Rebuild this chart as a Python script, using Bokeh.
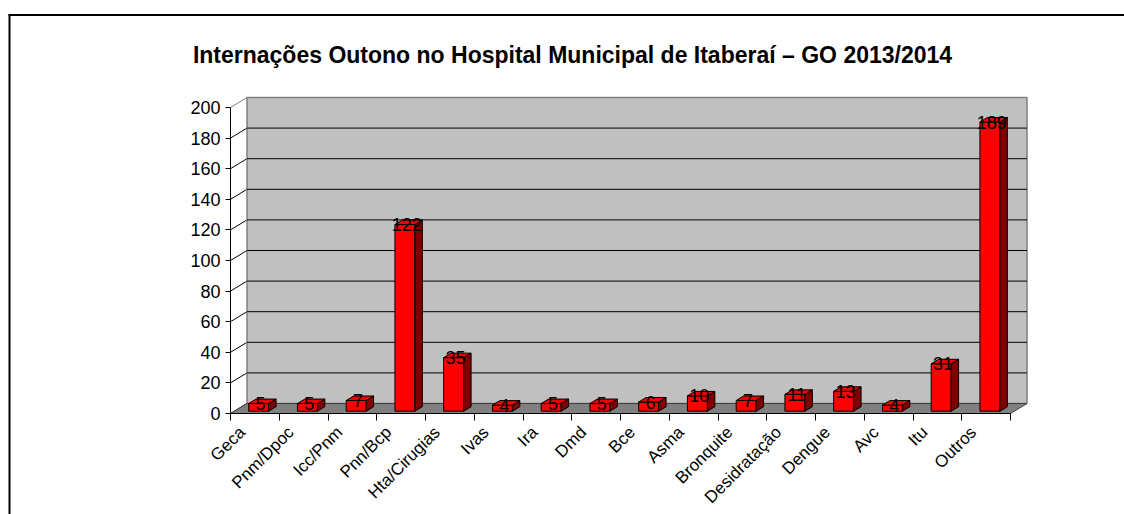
import math
from bokeh.plotting import figure
from bokeh.models import Range1d, LinearAxis, FixedTicker
from bokeh.embed import file_html
from bokeh.resources import INLINE
from bokeh.core.properties import value

# ---------------- data ----------------
categories = ["Geca", "Pnm/Dpoc", "Icc/Pnm", "Pnn/Bcp", "Hta/Cirugias", "Ivas", "Ira",
              "Dmd", "Bce", "Asma", "Bronquite", "Desidratação", "Dengue", "Avc", "Itu", "Outros"]
values = [5, 5, 7, 122, 35, 4, 5, 5, 6, 10, 7, 11, 13, 4, 31, 189]
y_ticks = [0, 20, 40, 60, 80, 100, 120, 140, 160, 180, 200]
title_text = "Internações Outono no Hospital Municipal de Itaberaí – GO 2013/2014"

# ---------------- layout (canvas pixels) ----------------
W, H = 1124, 514
FRONT_LEFT = 230      # canvas x of front-left corner (value axis)
FRONT_RIGHT = 1010    # canvas x of front-right corner
FLOOR = 413           # canvas y of value 0 on the front plane
TOP = 107             # canvas y of value 200 on the front plane
n = len(categories)
ymax = y_ticks[-1]
sx = (FRONT_RIGHT - FRONT_LEFT) / n
sy = (FLOOR - TOP) / ymax

def cx(px):  # canvas x -> data x
    return (px - FRONT_LEFT) / sx

def cy(py):  # canvas y -> data y
    return (FLOOR - py) / sy

DX = 16.5 / sx        # depth offset (data units)
DY = 10.0 / sy
F = 0.23              # front depth fraction of bars
B = 0.45              # bar depth fraction
BW = 0.41             # bar width (category units)
LABEL_SHIFT = 0.26    # category labels sit left of the category centre

FONT = "Liberation Sans"

p = figure(width=W, height=H, output_backend="svg", toolbar_location=None,
           x_axis_type=None, y_axis_type=None,
           x_range=Range1d(cx(0), cx(W)), y_range=Range1d(cy(H), cy(0)),
           min_border=0, min_border_left=0, min_border_right=0,
           min_border_top=0, min_border_bottom=0)
p.outline_line_color = None
p.outline_line_alpha = 0
p.xgrid.visible = False
p.ygrid.visible = False
p.background_fill_color = "white"
p.border_fill_color = "white"

# left side wall grid (diagonals)
p.segment(x0=[0] * len(y_ticks), y0=y_ticks,
          x1=[DX] * len(y_ticks), y1=[t + DY for t in y_ticks],
          line_color=["black"] * (len(y_ticks) - 1) + ["#808080"], line_width=1)

# back wall
p.quad(left=[DX], right=[n + DX], bottom=[DY], top=[ymax + DY],
       fill_color="#C0C0C0", line_color="#808080", line_width=1.5)
inner = y_ticks[1:-1]
p.segment(x0=[DX] * len(inner), y0=[t + DY for t in inner],
          x1=[n + DX] * len(inner), y1=[t + DY for t in inner],
          line_color="black", line_width=1)

# floor
p.patch(x=[0, n, n + DX, DX], y=[0, 0, DY, DY],
        fill_color="#808080", line_color="#404040", line_width=1)

# bars
fx0, fx1, fy0, fy1 = [], [], [], []
sxs, sys_, txs, tys = [], [], [], []
lx, ly, lt = [], [], []
for i, v in enumerate(values):
    c = i + 0.5
    x0 = c - BW / 2 + F * DX
    x1 = c + BW / 2 + F * DX
    yb = F * DY
    yt = v + F * DY
    bdx, bdy = B * DX, B * DY
    fx0.append(x0); fx1.append(x1); fy0.append(yb); fy1.append(yt)
    sxs.append([x1, x1 + bdx, x1 + bdx, x1]); sys_.append([yb, yb + bdy, yt + bdy, yt])
    txs.append([x0, x1, x1 + bdx, x0 + bdx]); tys.append([yt, yt, yt + bdy, yt + bdy])
    lx.append(c + F * DX + B * DX / 4); ly.append(yt); lt.append(str(v))

p.quad(left=fx0, right=fx1, bottom=fy0, top=fy1,
       fill_color="#FF0000", line_color="black", line_width=1)
p.patches(xs=sxs, ys=sys_, fill_color="#800000", line_color="black", line_width=1)
p.patches(xs=txs, ys=tys, fill_color="#F00000", line_color="black", line_width=1)

p.text(x=lx, y=ly, text=lt, text_align="center", text_baseline="alphabetic",
       text_font=value(FONT), text_font_size="18px", text_color="black")

# axes
yaxis = LinearAxis(fixed_location=0, bounds=(0, ymax),
                   ticker=FixedTicker(ticks=y_ticks),
                   major_tick_out=5, major_tick_in=0, minor_tick_out=0, minor_tick_in=0,
                   major_label_standoff=5,
                   major_label_text_font=FONT, major_label_text_font_size="18px",
                   major_label_text_color="black",
                   axis_line_color="black", major_tick_line_color="black")
p.add_layout(yaxis, "left")

label_pos = [i + 0.5 - LABEL_SHIFT for i in range(n)]
bounds_ticks = [float(i) for i in range(n + 1)]
xaxis = LinearAxis(fixed_location=0, bounds=(0, n),
                   ticker=FixedTicker(ticks=label_pos, minor_ticks=bounds_ticks),
                   major_label_overrides={c: name for c, name in zip(label_pos, categories)},
                   major_label_orientation=math.pi / 4,
                   major_tick_out=0, major_tick_in=0, minor_tick_out=7, minor_tick_in=0,
                   major_label_standoff=9,
                   major_label_text_font=FONT, major_label_text_font_size="17px",
                   major_label_text_color="black",
                   axis_line_color="black", minor_tick_line_color="black")
p.add_layout(xaxis, "below")

# title
p.text(x=[cx(572)], y=[cy(54)], text=[title_text], text_align="center",
       text_baseline="alphabetic", text_font=value(FONT), text_font_size="23px",
       text_font_style="bold", text_color="black")

# chart-area border (left and top edges)
p.segment(x0=[cx(9), cx(8)], y0=[cy(14), cy(14.5)], x1=[cx(9), cx(W)], y1=[cy(H), cy(14.5)],
          line_color="black", line_width=2)

open("out.html", "w").write(file_html(p, INLINE))
